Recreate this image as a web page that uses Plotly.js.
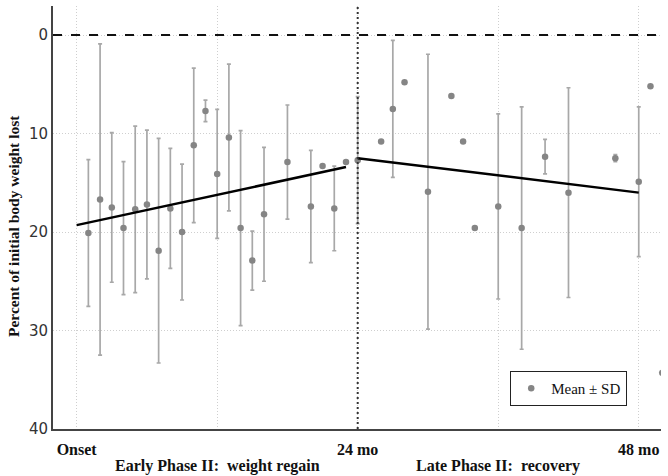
<!DOCTYPE html>
<html>
<head>
<meta charset="utf-8">
<script src="https://cdn.plot.ly/plotly-3.0.1.min.js"></script>
<style>
  body { margin: 0; background: #fff; }
  #chart { width: 668px; height: 476px; }
</style>
</head>
<body>
<div id="chart"></div>
<script>
// Months after onset for each observation
var months = [1, 2, 3, 4, 5, 6, 7, 8, 9, 10, 11, 12, 13, 14, 15, 16, 18, 20, 21, 22, 23, 24,
              26, 27, 28, 30, 32, 33, 34, 36, 38, 40, 42, 46, 48, 49, 50];
// Mean percent of initial body weight lost
var meanLost = [20.1, 16.7, 17.5, 19.6, 17.7, 17.2, 21.9, 17.6, 20.0, 11.2, 7.7, 14.1, 10.4, 19.6, 22.9, 18.2, 12.9, 17.4, 13.3, 17.6, 12.9, 12.7,
                10.8, 7.5, 4.8, 15.9, 6.2, 10.8, 19.6, 17.4, 19.6, 12.35, 16.0, 12.5, 14.9, 5.2, 34.3];
// Standard deviation (null = single value, no bar)
var sdLost = [7.45, 15.8, 7.6, 6.75, 8.45, 7.55, 11.4, 6.1, 6.9, 7.85, 1.1, 6.55, 7.45, 9.9, 3.0, 6.8, 5.8, 5.7, null, 4.3, null, 6.45,
              null, 6.95, null, 13.95, null, null, null, 9.4, 12.3, 1.75, 10.65, 0.35, 7.6, null, null];

// Fitted trend lines for each phase
var earlyFitX = [0, 23];
var earlyFitY = [19.3, 13.4];
var lateFitX = [24, 48];
var lateFitY = [12.5, 16.0];

var xTicks = [0, 12, 24, 36, 48];
var xTickText = ["Onset", "", "24 mo", "", "48 mo"];
var yTicks = [0, 10, 20, 30, 40];

var serif = "Liberation Serif, Times New Roman, serif";

var points = {
    x: months,
    y: meanLost,
    type: "scatter",
    mode: "markers",
    name: "Mean \u00b1 SD",
    marker: { color: "#858585", size: 6.5 },
    error_y: { type: "data", array: sdLost, visible: true, color: "#a8a8a8", thickness: 1.7, width: 2 }
};
var early = {
    x: earlyFitX, y: earlyFitY, type: "scatter", mode: "lines",
    line: { color: "#000", width: 2.5 }, showlegend: false
};
var late = {
    x: lateFitX, y: lateFitY, type: "scatter", mode: "lines",
    line: { color: "#000", width: 2.5 }, showlegend: false
};

var layout = {
    width: 668,
    height: 476,
    margin: { l: 53, r: 7, t: 6, b: 47 },
    paper_bgcolor: "#fff",
    plot_bgcolor: "#fff",
    showlegend: true,
    legend: {
        x: 0.752, y: 0.096, xanchor: "left", yanchor: "middle",
        bgcolor: "#fff", bordercolor: "#222", borderwidth: 1,
        font: { family: serif, size: 15, color: "#111" },
        itemwidth: 30
    },
    xaxis: {
        range: [-2.02, 49.9],
        tickvals: xTicks,
        ticktext: xTickText,
        ticks: "",
        ticklabelstandoff: 5,
        showline: true, linecolor: "#444", linewidth: 2,
        showgrid: true, gridcolor: "#cfcfcf", griddash: "1px,2px", gridwidth: 1,
        zeroline: false,
        tickfont: { family: serif, size: 16, color: "#111", weight: "bold" }
    },
    yaxis: {
        range: [40, -2.95],
        tickvals: yTicks,
        ticks: "",
        showline: true, linecolor: "#444", linewidth: 2,
        showgrid: true, gridcolor: "#cfcfcf", griddash: "1px,2px", gridwidth: 1,
        zeroline: false,
        tickfont: { family: "DejaVu Sans, sans-serif", size: 15, color: "#333" }
    },
    xaxis2: {
        overlaying: "x", side: "top", range: [-2.02, 49.9],
        tickvals: xTicks, ticks: "inside", ticklen: 4, tickcolor: "#777",
        showticklabels: false, showgrid: false, zeroline: false,
        showline: true, linecolor: "#999", linewidth: 1.5
    },
    yaxis2: {
        overlaying: "y", side: "right", range: [40, -2.95],
        tickvals: yTicks, ticks: "inside", ticklen: 4, tickcolor: "#777",
        showticklabels: false, showgrid: false, zeroline: false,
        showline: true, linecolor: "#999", linewidth: 1.5
    },
    shapes: [
        { type: "line", xref: "paper", x0: 0, x1: 1, yref: "y", y0: 0, y1: 0,
          line: { color: "#111", width: 2, dash: "dash" } },
        { type: "line", xref: "x", x0: 24, x1: 24, yref: "paper", y0: 0, y1: 1,
          line: { color: "#333", width: 2, dash: "2px,3px" } }
    ],
    annotations: [
        { text: "Percent of initial body weight lost", textangle: -90,
          xref: "paper", x: -0.064, yref: "paper", y: 0.48,
          xanchor: "center", yanchor: "middle", showarrow: false,
          font: { family: serif, size: 15.5, color: "#111", weight: "bold" } },
        { text: "Early Phase II:&nbsp; weight regain",
          xref: "x", x: 12, yref: "paper", y: -0.087,
          xanchor: "center", yanchor: "middle", showarrow: false,
          font: { family: serif, size: 16, color: "#111", weight: "bold" } },
        { text: "Late Phase II:&nbsp; recovery",
          xref: "x", x: 36, yref: "paper", y: -0.087,
          xanchor: "center", yanchor: "middle", showarrow: false,
          font: { family: serif, size: 16, color: "#111", weight: "bold" } }
    ]
};

Plotly.newPlot("chart", [points, early, late], layout, { displayModeBar: false, staticPlot: true });
</script>
</body>
</html>
